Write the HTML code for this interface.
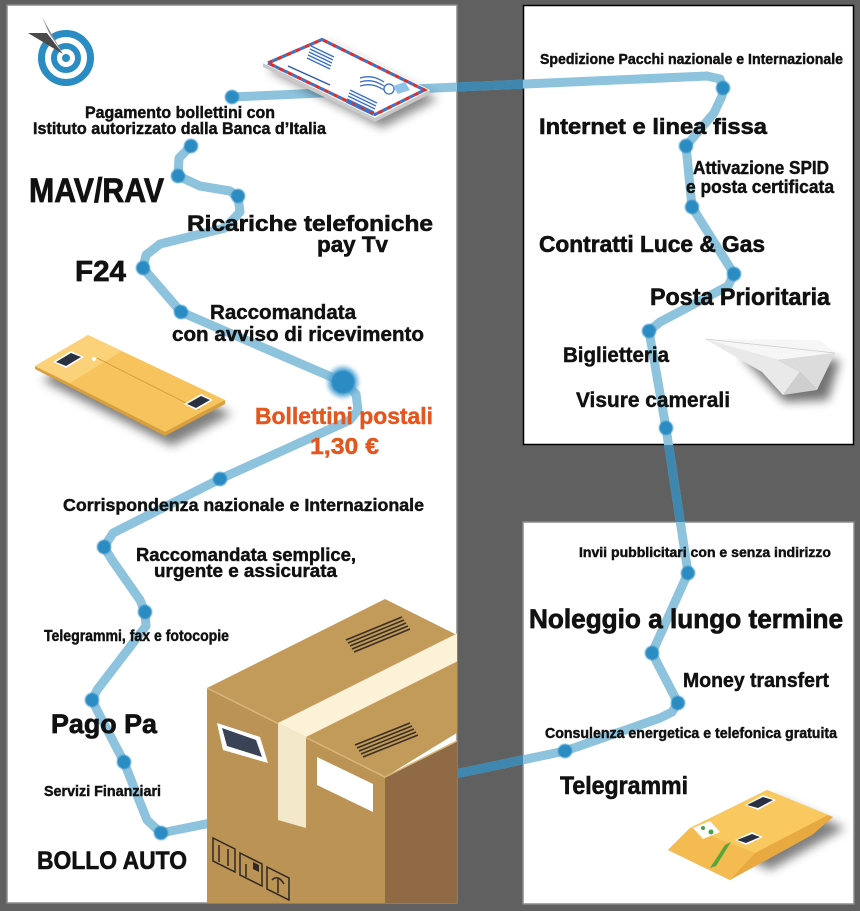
<!DOCTYPE html>
<html><head><meta charset="utf-8"><style>
html,body{margin:0;padding:0;background:#606060;}
svg{display:block}
text{font-family:"Liberation Sans",sans-serif;font-weight:bold;fill:#111;stroke:#111;stroke-width:0.45px;}
</style></head><body>
<svg width="860" height="911" viewBox="0 0 860 911" xmlns="http://www.w3.org/2000/svg">
<defs>
<filter id="sh" x="-50%" y="-50%" width="200%" height="200%"><feGaussianBlur stdDeviation="5"/></filter>
<filter id="db" x="-50%" y="-50%" width="200%" height="200%"><feGaussianBlur stdDeviation="0.7"/></filter>
<filter id="bd" x="-100%" y="-100%" width="300%" height="300%"><feGaussianBlur stdDeviation="2.5"/></filter>
<clipPath id="gap"><rect x="457" y="0" width="66" height="911"/><rect x="523" y="445" width="335" height="77"/></clipPath>
<clipPath id="lp"><rect x="7" y="5" width="450" height="898"/></clipPath>
</defs>
<rect width="860" height="911" fill="#606060"/>
<rect x="7" y="5" width="450" height="898" fill="#fff" stroke="#8a8a8a" stroke-width="1.5"/>
<rect x="523.5" y="5.5" width="330" height="439" fill="#fff" stroke="#000" stroke-width="1.5"/>
<rect x="523" y="522" width="331" height="382" fill="#fff" stroke="#8a8a8a" stroke-width="1.5"/>

<!-- path line -->
<polyline fill="none" stroke="#8dc3dd" stroke-width="9" stroke-linejoin="round" stroke-linecap="round"
points="191,146 179,158 178,176 200,186 230,191 238,197 240,212 225,228 160,244 146,255 143,268 181,312 343,382 356,394 358,410 350,420 220,479 113,533 104,547 112,560 140,600 145,612 146,626 97,690 92,700 100,716 124,762 135,790 147,820 161,833 460,773 565,751 660,718 672,712 678,703 652,653 688,573 680,520 666,428 649,331 660,322 728,286 734,274 692,207 686,146 714,113 722,96 723,88 720,79 707,76 232,97"/>
<polyline clip-path="url(#gap)" fill="none" stroke="#3f87ae" stroke-width="9" stroke-linejoin="round" stroke-linecap="round"
points="161,833 460,773 565,751 660,718 672,712 678,703 652,653 688,573 680,520 666,428 649,331 660,322 728,286 734,274 692,207 686,146 714,113 722,96 723,88 720,79 707,76 232,97"/>

<!-- dots -->
<g fill="#2a8cc3" filter="url(#db)">
<circle cx="232" cy="97" r="7"/><circle cx="191" cy="146" r="7"/><circle cx="178" cy="176" r="7"/>
<circle cx="238" cy="196" r="7"/><circle cx="143" cy="268" r="7"/><circle cx="181" cy="312" r="7"/>
<circle cx="220" cy="479" r="7"/><circle cx="104" cy="547" r="7"/><circle cx="145" cy="612" r="7"/>
<circle cx="92" cy="700" r="7"/><circle cx="124" cy="762" r="7"/><circle cx="161" cy="833" r="7"/>
<circle cx="565" cy="751" r="7"/><circle cx="678" cy="703" r="7"/><circle cx="652" cy="653" r="7"/>
<circle cx="688" cy="573" r="7"/><circle cx="666" cy="428" r="7"/><circle cx="649" cy="331" r="7"/>
<circle cx="734" cy="274" r="7"/><circle cx="692" cy="207" r="7"/><circle cx="686" cy="146" r="7"/>
<circle cx="723" cy="88" r="7"/>
</g>
<circle cx="343" cy="382" r="15" fill="#5aa7d4" filter="url(#bd)"/>
<circle cx="343" cy="382" r="11.5" fill="#2a8cc3" filter="url(#db)"/>

<!-- target icon -->
<circle cx="66" cy="58" r="24.5" fill="none" stroke="#2b8cc3" stroke-width="7"/>
<circle cx="66" cy="58" r="12" fill="none" stroke="#2b8cc3" stroke-width="6"/>
<circle cx="66" cy="58" r="4" fill="#2b8cc3"/>
<polygon points="28,33 47,33 63,54" fill="#4a4a4a"/>
<polygon points="42,17 49,33 63,54" fill="#8e8e8e"/>
<polygon points="49,33 47,33 63,54" fill="#fff"/>

<!-- air mail envelope -->
<polygon points="268,70 327,44 438,99 382,128" fill="#000" opacity="0.45" filter="url(#sh)"/>
<polygon points="263,63 375,118 430,90 430,94 375,122 263,67" fill="#c9c9c9"/>
<polygon points="263,63 322,36 430,90 375,118" fill="#fff"/>
<polygon points="268,63 322,39.5 424.5,90 375,114.5" fill="none" stroke="#d9302e" stroke-width="3.2" stroke-dasharray="5 5"/>
<polygon points="268,63 322,39.5 424.5,90 375,114.5" fill="none" stroke="#3f72c4" stroke-width="3.2" stroke-dasharray="5 5" stroke-dashoffset="5"/>
<g stroke="#3a6fc6" stroke-width="1.3">
<line x1="311" y1="46" x2="334" y2="57"/><line x1="310" y1="49" x2="333" y2="60"/><line x1="309" y1="52" x2="332" y2="63"/><line x1="308" y1="55" x2="331" y2="66"/><line x1="307" y1="58" x2="330" y2="69"/>
<line x1="350" y1="90" x2="377" y2="103"/><line x1="349" y1="93" x2="376" y2="106"/><line x1="348" y1="96" x2="375" y2="109"/><line x1="347" y1="99" x2="374" y2="112"/><line x1="346" y1="102" x2="373" y2="115"/>
<path d="M288,66 L330,85" stroke="#2c56a8" stroke-width="1.4"/>
<path d="M360,78 Q372,74 384,82 M360,82 Q372,78 384,86 M360,86 Q372,82 384,90" fill="none"/>
</g>
<circle cx="389" cy="89" r="5" fill="none" stroke="#3a6fc6" stroke-width="1.3"/>
<polygon points="393,86 405,82 410,90 398,94" fill="#8fc3ea"/>

<!-- yellow envelope -->
<polygon points="42,380 95,350 232,414 172,446" fill="#000" opacity="0.5" filter="url(#sh)"/>
<polygon points="35,366 165,432 225,400 225,404 165,436 35,369" fill="#d99f3c"/>
<polygon points="35,366 88,335 225,400 165,432" fill="#f7c35d"/>
<polygon points="35,366 88,335 122,351 70,383" fill="#fbd27a"/>
<line x1="97" y1="358" x2="200" y2="410" stroke="#d9a043" stroke-width="1"/>
<circle cx="94" cy="359" r="2" fill="#fff"/>
<polygon points="53,362 71,351 84,357 66,368" fill="#fff"/>
<polygon points="56,362 71,353 81,357 66,366" fill="#2b3040"/>
<polygon points="184,404 201,394 213,400 196,410" fill="#fff"/>
<polygon points="187,404 201,396 210,400 196,408" fill="#2b3040"/>

<!-- paper plane -->
<polygon points="740,355 840,360 828,400 785,402" fill="#000" opacity="0.55" filter="url(#sh)"/>
<polygon points="705,339 820,340 835,353 778,360" fill="#f6f6f6"/>
<polygon points="705,339 778,360 800,372 783,395 762,372" fill="#e9e9e9"/>
<polygon points="778,360 835,353 817,390 800,372" fill="#dcdcdc"/>
<polygon points="800,372 817,390 783,395" fill="#cfcfcf"/>
<line x1="705" y1="339" x2="835" y2="353" stroke="#cccccc" stroke-width="0.8"/>

<!-- box -->
<g clip-path="url(#lp)">
<polygon points="207,688 385,599 545,679 385,777" fill="#c29b5b"/>
<polygon points="207,688 385,777 385,905 207,905" fill="#bb9355"/>
<polygon points="385,777 465,737 465,905 385,905" fill="#8f6a44"/>
<polyline points="207,688 385,777 465,737" fill="none" stroke="#d8b678" stroke-width="1.5"/>
<polygon points="278,723 460,632 460,660 306,737" fill="#fcf2d8"/>
<polygon points="278,723 306,737 306,828 278,820" fill="#f4e8cb"/>
<g stroke="#3a2f22" stroke-width="1.6">
<line x1="346" y1="640" x2="402" y2="617"/><line x1="348" y1="643" x2="404" y2="620"/><line x1="350" y1="646" x2="406" y2="623"/><line x1="352" y1="649" x2="408" y2="626"/><line x1="354" y1="652" x2="410" y2="629"/>
<line x1="355" y1="745" x2="410" y2="723"/><line x1="357" y1="748" x2="412" y2="726"/><line x1="359" y1="751" x2="414" y2="729"/><line x1="361" y1="754" x2="416" y2="732"/><line x1="363" y1="757" x2="418" y2="735"/>
</g>
<polygon points="217,723 260,737 268,763 223,750" fill="#fff"/>
<polygon points="222,728 256,740 262,757 227,746" fill="#3a4256"/>
<polygon points="317,757 373,784 373,812 317,785" fill="#fff"/>
<g fill="none" stroke="#2f2a24" stroke-width="1.5">
<polygon points="213,838 235,849 235,872 213,861"/>
<line x1="219" y1="845" x2="219" y2="862"/><line x1="228" y1="849" x2="228" y2="866"/>
<polygon points="240,853 262,864 262,886 240,875"/>
<line x1="246" y1="864" x2="246" y2="877"/>
<polygon points="267,867 289,878 289,900 267,889"/>
<path d="M272,880 Q278,874 284,884 M278,879 L278,893"/>
</g>
<polygon points="253,862 259,865 259,872 253,869" fill="#2f2a24"/>
</g>

<!-- yellow package -->
<polygon points="700,835 775,798 845,828 770,870" fill="#000" opacity="0.5" filter="url(#sh)"/>
<polygon points="668,850 690,828 767,790 833,817 812,835 730,880" fill="#e9a941"/>
<polygon points="690,828 767,790 828,815 755,853" fill="#f9c95f"/>
<polygon points="668,850 690,828 755,853 730,880" fill="#f3bb50"/>
<polygon points="725,845 731,842 716,866 710,868" fill="#58a53a"/>
<polygon points="693,828 710,821 720,832 703,839" fill="#fff"/>
<circle cx="703" cy="828" r="2" fill="#4aa24a"/><circle cx="711" cy="832" r="2.5" fill="#4aa24a"/>
<polygon points="735,840 752,832 763,837 746,845" fill="#fff"/>
<polygon points="737,840 752,834 760,837 746,843" fill="#2b3040"/>
<polygon points="745,805 763,795 776,800 758,810" fill="#fff"/>
<polygon points="747,805 763,797 773,800 758,808" fill="#2b3040"/>

<!-- texts left -->
<text x="85" y="118" font-size="16.5" textLength="190" lengthAdjust="spacingAndGlyphs">Pagamento bollettini con</text>
<text x="33" y="134" font-size="16.5" textLength="293" lengthAdjust="spacingAndGlyphs">Istituto autorizzato dalla Banca d’Italia</text>
<text x="29" y="202" font-size="34" textLength="135" lengthAdjust="spacingAndGlyphs" style="stroke-width:0.8px">MAV/RAV</text>
<text x="187" y="231" font-size="22.5" textLength="246" lengthAdjust="spacingAndGlyphs" style="stroke-width:0.6px">Ricariche telefoniche</text>
<text x="317" y="252" font-size="22.5" textLength="71" lengthAdjust="spacingAndGlyphs" style="stroke-width:0.6px">pay Tv</text>
<text x="75" y="281" font-size="29" textLength="51" lengthAdjust="spacingAndGlyphs" style="stroke-width:0.7px">F24</text>
<text x="210" y="319" font-size="20.5" textLength="146" lengthAdjust="spacingAndGlyphs">Raccomandata</text>
<text x="172" y="341" font-size="20.5" textLength="252" lengthAdjust="spacingAndGlyphs">con avviso di ricevimento</text>
<text x="255" y="424" font-size="23.5" textLength="178" lengthAdjust="spacingAndGlyphs" style="fill:#e4561e;stroke:#e4561e">Bollettini postali</text>
<text x="310" y="454" font-size="23.5" textLength="69" lengthAdjust="spacingAndGlyphs" style="fill:#e4561e;stroke:#e4561e">1,30 €</text>
<text x="63" y="511" font-size="17.5" textLength="361" lengthAdjust="spacingAndGlyphs">Corrispondenza nazionale e Internazionale</text>
<text x="136" y="561" font-size="18" textLength="220" lengthAdjust="spacingAndGlyphs">Raccomandata semplice,</text>
<text x="154" y="577" font-size="18" textLength="183" lengthAdjust="spacingAndGlyphs">urgente e assicurata</text>
<text x="44" y="641" font-size="15.5" textLength="185" lengthAdjust="spacingAndGlyphs">Telegrammi, fax e fotocopie</text>
<text x="51" y="733" font-size="27" textLength="106" lengthAdjust="spacingAndGlyphs" style="stroke-width:0.7px">Pago Pa</text>
<text x="44" y="796" font-size="15" textLength="117" lengthAdjust="spacingAndGlyphs">Servizi Finanziari</text>
<text x="37" y="869" font-size="25" textLength="150" lengthAdjust="spacingAndGlyphs" style="stroke-width:0.6px">BOLLO AUTO</text>

<!-- texts right top -->
<text x="540" y="64" font-size="15" textLength="303" lengthAdjust="spacingAndGlyphs">Spedizione Pacchi nazionale e Internazionale</text>
<text x="539" y="134" font-size="22.5" textLength="228" lengthAdjust="spacingAndGlyphs" style="stroke-width:0.6px">Internet e linea fissa</text>
<text x="693" y="174" font-size="18" textLength="136" lengthAdjust="spacingAndGlyphs">Attivazione SPID</text>
<text x="686" y="193" font-size="18" textLength="148" lengthAdjust="spacingAndGlyphs">e posta certificata</text>
<text x="539" y="252" font-size="23" textLength="226" lengthAdjust="spacingAndGlyphs" style="stroke-width:0.6px">Contratti Luce &amp; Gas</text>
<text x="650" y="305" font-size="24" textLength="180" lengthAdjust="spacingAndGlyphs" style="stroke-width:0.6px">Posta Prioritaria</text>
<text x="563" y="362" font-size="21" textLength="106" lengthAdjust="spacingAndGlyphs">Biglietteria</text>
<text x="576" y="407" font-size="21.5" textLength="154" lengthAdjust="spacingAndGlyphs">Visure camerali</text>

<!-- texts right bottom -->
<text x="579" y="557" font-size="13.5" textLength="252" lengthAdjust="spacingAndGlyphs">Invii pubblicitari con e senza indirizzo</text>
<text x="529" y="628" font-size="27" textLength="314" lengthAdjust="spacingAndGlyphs" style="stroke-width:0.7px">Noleggio a lungo termine</text>
<text x="683" y="687" font-size="20.5" textLength="146" lengthAdjust="spacingAndGlyphs">Money transfert</text>
<text x="545" y="738" font-size="15" textLength="292" lengthAdjust="spacingAndGlyphs">Consulenza energetica e telefonica gratuita</text>
<text x="560" y="794" font-size="25" textLength="128" lengthAdjust="spacingAndGlyphs" style="stroke-width:0.6px">Telegrammi</text>
</svg>
</body></html>
